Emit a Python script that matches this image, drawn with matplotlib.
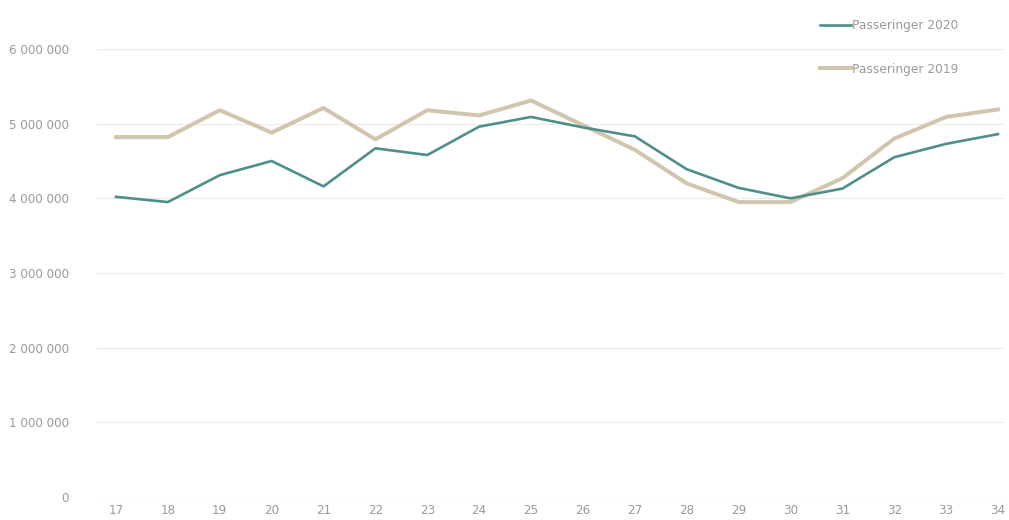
import matplotlib
matplotlib.use("Agg")
import matplotlib.pyplot as plt
from matplotlib.ticker import FuncFormatter

weeks = list(range(17, 35))
pass_2020 = [4.02, 3.95, 4.31, 4.50, 4.16, 4.67, 4.58, 4.96, 5.09, 4.95,
             4.83, 4.39, 4.14, 4.00, 4.13, 4.55, 4.73, 4.86]
pass_2019 = [4.82, 4.82, 5.18, 4.88, 5.21, 4.79, 5.18, 5.11, 5.31, 4.98,
             4.65, 4.20, 3.95, 3.95, 4.27, 4.80, 5.09, 5.19]
pass_2020 = [v * 1e6 for v in pass_2020]
pass_2019 = [v * 1e6 for v in pass_2019]

fig = plt.figure(figsize=(10.09, 5.2), dpi=100)
ax = fig.add_axes([97 / 1009, 23 / 520, 908 / 1009, 448 / 520])

l20, = ax.plot(weeks, pass_2020, color="#4f8f8b", lw=1.9, label="Passeringer 2020", zorder=3)
l19, = ax.plot(weeks, pass_2019, color="#d2c5ae", lw=2.9, label="Passeringer 2019", zorder=2)

ax.set_xlim(16.634, 34.135)
ax.set_ylim(0, 6e6)
ax.set_yticks([0, 1e6, 2e6, 3e6, 4e6, 5e6, 6e6])
ax.set_xticks(weeks)
ax.yaxis.set_major_formatter(FuncFormatter(lambda v, p: f"{int(v):,}".replace(",", " ")))
ax.grid(axis="y", color="#ececec", lw=0.9)
ax.set_axisbelow(True)
for s in ax.spines.values():
    s.set_visible(False)
ax.tick_params(length=0, labelsize=8.6, colors="#9a9a9a", pad=5)
ax.tick_params(axis="y", pad=20)

fig.legend(handles=[l20, l19], loc="upper left", bbox_to_anchor=(809 / 1009, 1 - 8 / 520),
           frameon=False, fontsize=8.8, labelcolor="#9a9a9a", handlelength=2.5,
           handletextpad=0.1, labelspacing=2.5)

fig.savefig("out.png", dpi=100)
